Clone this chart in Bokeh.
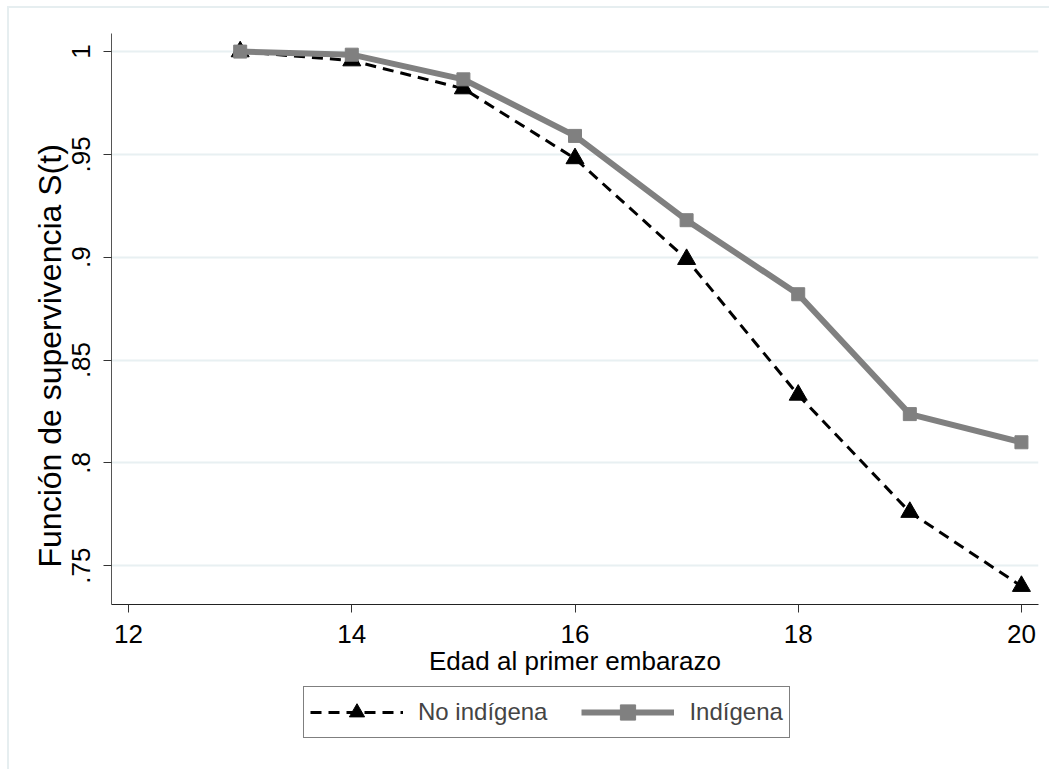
from bokeh.plotting import figure
from bokeh.layouts import column
from bokeh.models import Range1d, FixedTicker, Legend, LegendItem, Title
from bokeh.embed import file_html
from bokeh.resources import INLINE

# Data
edad = [13, 14, 15, 16, 17, 18, 19, 20]
no_indigena = [1.0, 0.9956, 0.982, 0.948, 0.899, 0.833, 0.776, 0.740]
indigena = [1.0, 0.9985, 0.9865, 0.959, 0.918, 0.882, 0.8237, 0.810]
series_names = ["No indígena", "Indígena"]
x_ticks = [12, 14, 16, 18, 20]
y_ticks = [0.75, 0.8, 0.85, 0.9, 0.95, 1.0]
y_tick_labels = [".75", ".8", ".85", ".9", ".95", "1"]

FONT = "Liberation Sans"
BLACK_LINE = dict(line_color="black", line_width=3, line_dash="11 7")
BLACK_MARK = dict(marker="triangle", fill_color="black", line_color="black")
GRAY_LINE = dict(line_color="#808080", line_width=6)
GRAY_MARK = dict(marker="square", fill_color="#808080", line_color="#808080")

p = figure(width=1040, height=678, output_backend="svg", toolbar_location=None,
           x_range=Range1d(11.847, 20.153), y_range=Range1d(0.7311, 1.0088),
           min_border_left=102, min_border_right=11, min_border_top=25,
           min_border_bottom=82)
p.outline_line_color = None
p.background_fill_color = "white"
p.border_fill_color = "white"

# Grid
p.xgrid.grid_line_color = None
p.ygrid.grid_line_color = "#e8f0f2"
p.ygrid.grid_line_width = 2
p.ygrid.ticker = FixedTicker(ticks=y_ticks)

# Axes
p.xaxis.ticker = FixedTicker(ticks=x_ticks)
p.yaxis.ticker = FixedTicker(ticks=y_ticks)
p.yaxis.major_label_overrides = {t: l for t, l in zip(y_ticks, y_tick_labels)}
p.yaxis.major_label_orientation = "vertical"
for ax in (p.xaxis, p.yaxis):
    ax.minor_tick_line_color = None
    ax.major_tick_out = 8
    ax.major_tick_in = 0
    ax.major_tick_line_color = "#333333"
    ax.major_label_text_font = FONT
    ax.major_label_text_font_size = "26px"
    ax.major_label_text_color = "black"
    ax.axis_label_text_font = FONT
    ax.axis_label_text_font_style = "normal"
    ax.axis_label_text_color = "black"
    ax.major_label_standoff = 12
p.yaxis.major_label_standoff = 13
p.xaxis.axis_line_color = "#222222"
p.yaxis.axis_line_color = "#555555"
p.xaxis.axis_label = "Edad al primer embarazo"
p.xaxis.axis_label_text_font_size = "26px"
p.xaxis.axis_label_standoff = 0

ytitle = Title(text="Función de supervivencia S(t)", align="left", offset=37,
               text_font=FONT, text_font_size="32px", text_font_style="normal",
               text_color="black", standoff=4)
p.add_layout(ytitle, "left")

# Series
p.line(edad, no_indigena, **BLACK_LINE)
p.scatter(edad, no_indigena, size=18, **BLACK_MARK)
p.line(edad, indigena, **GRAY_LINE)
p.scatter(edad, indigena, size=13, **GRAY_MARK)

# Legend figure (separate so the legend is not clipped by the plot frame);
# its renderers use the same data but lie outside its visible range.
pl = figure(width=1040, height=83, output_backend="svg", toolbar_location=None,
            x_range=Range1d(0, 1), y_range=Range1d(0, 1),
            x_axis_location=None, y_axis_location=None,
            min_border_left=0, min_border_right=0, min_border_top=0, min_border_bottom=0)
pl.grid.visible = False
pl.outline_line_color = None
pl.border_fill_color = "white"
lr1 = pl.line(edad, no_indigena, **BLACK_LINE)
lm1 = pl.scatter(edad, no_indigena, **BLACK_MARK)
lr2 = pl.line(edad, indigena, **GRAY_LINE)
lm2 = pl.scatter(edad, indigena, **GRAY_MARK)
legend = Legend(items=[LegendItem(label=series_names[0], renderers=[lr1, lm1]),
                       LegendItem(label=series_names[1], renderers=[lr2, lm2])],
                orientation="horizontal", location=(192, 31),
                glyph_width=93, glyph_height=38, label_standoff=15, spacing=34,
                padding=6, margin=0, border_line_color="black", border_line_width=1.5,
                label_text_font=FONT, label_text_font_size="24px",
                background_fill_color="white", background_fill_alpha=1)
pl.add_layout(legend)

layout = column(p, pl, spacing=0)
layout.margin = (6, 0, 0, 7)
layout.styles = {"border-left": "2px solid #e6eef0", "border-top": "2px solid #e6eef0",
                 "border-right": "none", "border-bottom": "none"}

open("out.html", "w").write(file_html(layout, INLINE))
